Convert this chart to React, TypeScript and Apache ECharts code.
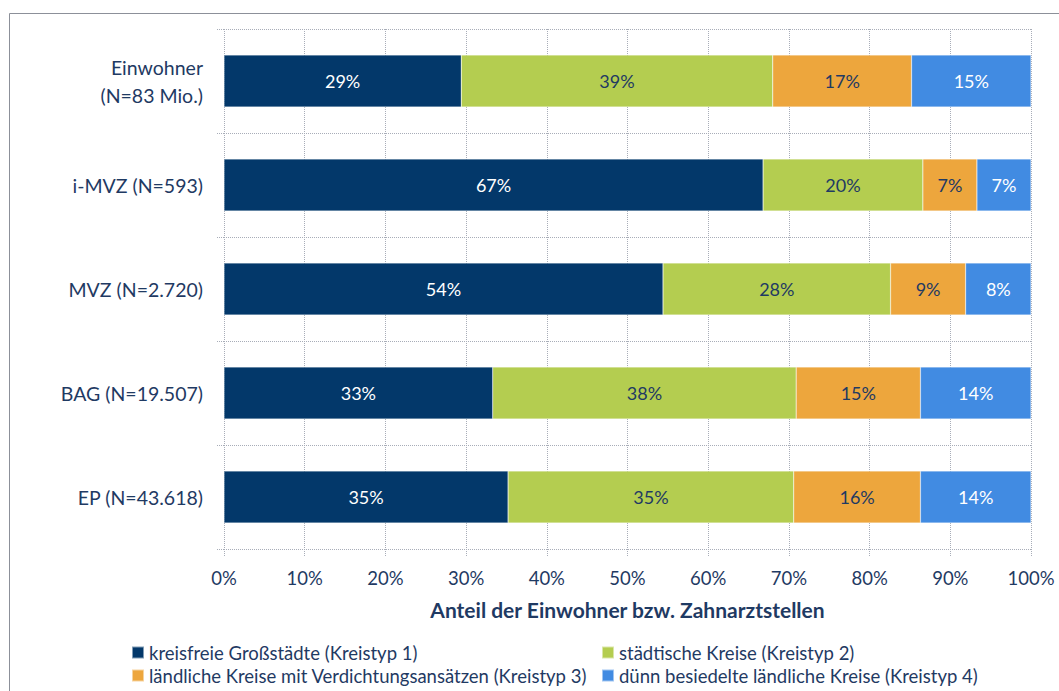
import React, { useEffect, useRef } from "react";
import * as echarts from "echarts";

const categories = ["Einwohner\n(N=83 Mio.)", "i-MVZ (N=593)", "MVZ (N=2.720)", "BAG (N=19.507)", "EP (N=43.618)"];
const seriesNames = [
  "kreisfreie Großstädte (Kreistyp 1)",
  "städtische Kreise (Kreistyp 2)",
  "ländliche Kreise mit Verdichtungsansätzen (Kreistyp 3)",
  "dünn besiedelte ländliche Kreise (Kreistyp 4)",
];
const typ1 = [29.4, 66.8, 54.4, 33.3, 35.2];
const typ2 = [38.6, 19.8, 28.2, 37.6, 35.4];
const typ3 = [17.2, 6.7, 9.3, 15.4, 15.7];
const typ4 = [14.8, 6.7, 8.1, 13.7, 13.7];
const xTicks = [0, 10, 20, 30, 40, 50, 60, 70, 80, 90, 100];

const colors = ["#03386A", "#B4CD50", "#EDA63D", "#418BE2"];
const labelColors = ["#ffffff", "#1F3A63", "#1F3A63", "#ffffff"];
const textColor = "#1F3A63";
const font = "Lato, 'Open Sans', sans-serif";
const gridColor = "#A8ADB8";

// legend placement: [left, top] per series
const legendPos = [
  [131, 643],
  [601, 643],
  [131, 666],
  [601, 666],
];

export default function App() {
  const ref = useRef<HTMLDivElement>(null);
  useEffect(() => {
    if (!ref.current) return;
    const chart = echarts.init(ref.current, undefined, { renderer: "svg" });
    const all = [typ1, typ2, typ3, typ4];
    chart.setOption({
      animation: false,
      backgroundColor: "#ffffff",
      textStyle: { fontFamily: font },
      graphic: [
        {
          type: "rect",
          shape: { x: 9.5, y: 13.5, width: 1060, height: 700 },
          style: { fill: "none", stroke: "#8C9099", lineWidth: 1 },
          silent: true,
        },
      ],
      grid: { left: 224, right: 28, top: 29, bottom: 142, containLabel: false },
      xAxis: {
        type: "value",
        min: 0,
        max: 100,
        interval: 10,
        name: "Anteil der Einwohner bzw. Zahnarztstellen",
        nameLocation: "middle",
        nameGap: 50,
        nameTextStyle: { color: textColor, fontSize: 21, fontWeight: "bold", fontFamily: font },
        axisLine: { show: false },
        axisTick: { show: true, length: 7, lineStyle: { color: gridColor, type: "dotted" } },
        axisLabel: {
          color: textColor,
          fontSize: 18.5,
          margin: 19,
          fontFamily: font,
          formatter: (v: number) => (xTicks.includes(v) ? v + "%" : ""),
        },
        splitLine: { show: true, lineStyle: { color: gridColor, type: "dotted", width: 1 } },
      },
      yAxis: {
        type: "category",
        data: categories,
        inverse: true,
        axisLine: { show: false },
        axisTick: { show: true, length: 7, lineStyle: { color: gridColor, type: "dotted" } },
        axisLabel: {
          color: textColor,
          fontSize: 19.5,
          margin: 21,
          lineHeight: 28,
          fontFamily: font,
          align: "right",
        },
        splitLine: { show: true, lineStyle: { color: gridColor, type: "dotted", width: 1 } },
      },
      legend: seriesNames.map((n, i) => ({
        data: [n],
        orient: "horizontal",
        left: legendPos[i][0],
        top: legendPos[i][1],
        padding: 0,
        itemWidth: 12,
        itemHeight: 12,
        icon: "rect",
        textStyle: { color: textColor, fontSize: 18.5, fontFamily: font },
      })),
      series: all.map((d, i) => ({
        name: seriesNames[i],
        type: "bar",
        stack: "total",
        barWidth: "50%",
        data: d,
        itemStyle: { color: colors[i], borderColor: "rgba(255,255,255,0.5)", borderWidth: 0.5 },
        label: {
          show: true,
          position: "inside",
          color: labelColors[i],
          fontSize: 18,
          fontFamily: font,
          formatter: (p: any) => Math.round(p.value) + "%",
        },
      })),
    });
    return () => chart.dispose();
  }, []);
  return <div ref={ref} style={{ width: 1059, height: 691, position: "absolute", left: 0, top: 0 }} />;
}
